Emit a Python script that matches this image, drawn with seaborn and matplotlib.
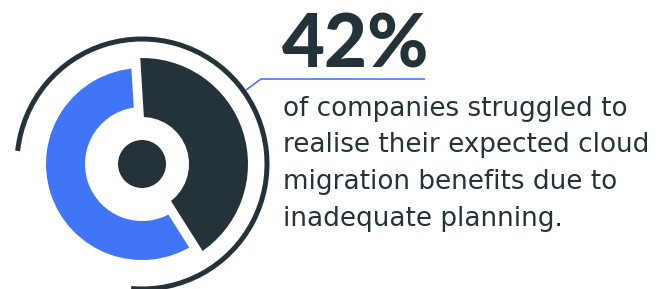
import seaborn as sns
import matplotlib.pyplot as plt
from matplotlib.patches import Arc, Circle

# data
share = [42, 58]          # struggled / rest, in percent
headline = "42%"
caption_lines = [
    "of companies struggled to",
    "realise their expected cloud",
    "migration benefits due to",
    "inadequate planning.",
]

DARK = "#24333a"
BLUE = "#4175f8"

sns.set_theme(style="white")
plt.rcParams['font.family'] = ['Lato', 'DejaVu Sans']

W, H = 672, 289
fig = plt.figure(figsize=(W / 100, H / 100), dpi=100)
ax = fig.add_axes([0, 0, 1, 1])

cx, cy = 142, H - 164
gap = 9.5            # px of white between the two slices
px = 0.72            # points per pixel at 100 dpi
start = 90 + 3.5

# the remaining share, thinner ring
blue, _ = ax.pie(share, radius=96, center=(cx, cy), startangle=start, counterclock=False,
                 colors=['none', BLUE], wedgeprops=dict(width=39, linewidth=0))
blue[0].set_visible(False)

# the headline share, thicker ring; white edge makes the gaps
dark, _ = ax.pie(share, radius=106 + gap / 2, center=(cx, cy), startangle=start, counterclock=False,
                 colors=[DARK, 'none'],
                 wedgeprops=dict(width=59 + gap, edgecolor='white', linewidth=gap * px))
dark[1].set_visible(False)

# centre dot and outer thin arc
ax.add_patch(Circle((cx, cy), 24, color=DARK, lw=0))
ax.add_patch(Arc((cx, cy), 250, 250, theta1=-95, theta2=174, color=DARK, lw=5 * px))

# leader line to the headline
ax.plot([246, 261, 425], [H - 90, H - 79, H - 79], color=BLUE, lw=1.6 * px, solid_capstyle='butt')

ax.text(282, H - 68, headline, fontsize=53.5, fontweight=900, color=DARK, va='baseline', ha='left',
        family=['Lato', 'DejaVu Sans'])
for i, line in enumerate(caption_lines):
    ax.text(283, H - 116 - i * 36.5, line, fontsize=18.9, color=DARK, va='baseline', ha='left',
            family='DejaVu Sans')

ax.set_xlim(0, W)
ax.set_ylim(0, H)
ax.set_aspect('equal')
ax.axis('off')

fig.savefig("out.png", dpi=100, facecolor='white')
